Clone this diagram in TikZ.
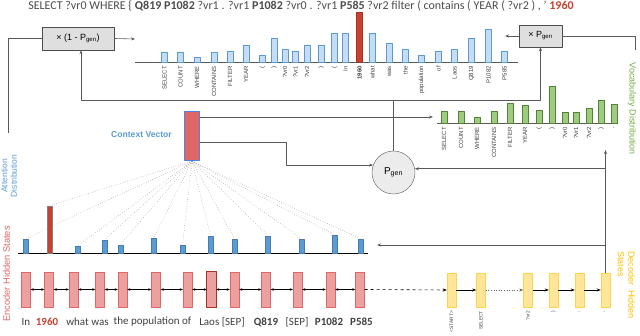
\documentclass[tikz,border=0pt]{standalone}
\usepackage{fontspec}
\setmainfont{Carlito}
\newfontfamily\arialf{Liberation Sans}
\usetikzlibrary{arrows.meta}

\definecolor{attblue}{HTML}{5B9BD5}
\definecolor{lightblue}{HTML}{C5DCF2}
\definecolor{vocgreen}{HTML}{70AD47}
\definecolor{lightgreen}{HTML}{9DCB80}
\definecolor{darkgreen}{HTML}{548235}
\definecolor{hotred}{HTML}{C9412E}
\definecolor{encred}{HTML}{E06666}
\definecolor{encfill}{HTML}{EDA0A0}
\definecolor{decfill}{HTML}{FFE699}
\definecolor{decdraw}{HTML}{FFD24D}
\definecolor{decyellow}{HTML}{FFC000}
\definecolor{ctxred}{HTML}{E06666}
\definecolor{ctxblue}{HTML}{4A86E8}
\definecolor{txtgray}{HTML}{404040}

\tikzset{
  wire/.style={draw=gray!70!black, line width=0.6pt},
  gatebox/.style={draw=gray!60!black, fill=gray!25, inner sep=0pt, font=\arialf\fontsize{9}{10}\selectfont},
  encstate/.style={draw=encred, fill=encfill, minimum width=9pt, minimum height=35pt, inner sep=0pt},
  decstate/.style={draw=decdraw, fill=decfill, minimum width=9pt, minimum height=34pt, inner sep=0pt},
  attbar/.style={draw=attblue!80!black, fill=attblue, minimum width=5pt, inner sep=0pt, anchor=south},
  tbar/.style={draw=attblue, fill=lightblue, line width=0.5pt},
  rbar/.style={draw=hotred!80!black, fill=hotred, line width=0.5pt},
  gbar/.style={draw=darkgreen, fill=lightgreen, line width=0.5pt},
  ticklab/.style={rotate=90, anchor=east, inner sep=0pt, text=txtgray, font=\arialf\fontsize{6}{6}\selectfont},
  toklab/.style={text=txtgray, font=\fontsize{11}{13}\selectfont, inner sep=0pt},
}

\begin{document}
\begin{tikzpicture}[x=1pt, y=-1pt, >={Stealth[length=4pt,width=3pt]}, line join=round]
	\useasboundingbox (0,0) rectangle (640,336);

	% query on top
	\node[text=gray!60!black, font=\fontsize{12}{14}\selectfont, inner sep=0pt] (query) at (301,5.5)
		{SELECT ?vr0 WHERE \{ \textbf{Q819 P1082} ?vr1 . ?vr1 \textbf{P1082} ?vr0 . ?vr1 \textbf{P585} ?vr2 filter ( contains ( YEAR ( ?vr2 ) , ' \textcolor{hotred}{\textbf{1960}}};

	% gates
	\node[gatebox, minimum width=72pt, minimum height=23pt] (copygate) at (78,38.5) {× (1 - P\textsubscript{gen})};
	\node[gatebox, minimum width=43pt, minimum height=22pt] (gengate) at (540.5,36) {× P\textsubscript{gen}};
	\node[circle, draw=gray!70!black, fill=gray!15, minimum size=43pt, inner sep=0pt,
		font=\arialf\fontsize{10}{11}\selectfont] (pgen) at (393.5,172.5) {P\textsubscript{gen}};

	% final distribution (copy + vocabulary)
	\draw[gray!70!black, line width=0.9pt] (135,62) -- (518,62);
	\foreach \x/\t/\l/\s [count=\i] in {164.5/52/SELECT/tbar, 180.5/52/COUNT/tbar, 197/57/WHERE/tbar,
		214/52/CONTAINS/tbar, 230/51/FILTER/tbar, 246/45/YEAR/tbar, 262.5/55/{(}/tbar, 274/38/{)}/tbar,
		285/49/?vr0/tbar, 295.5/51/?vr1/tbar, 307/45/?vr2/tbar, 321/45/{)}/tbar, 334.5/33/{(}/tbar,
		345.5/33/In/tbar, 359.5/12/\textbf{1960}/rbar, 372.5/33/what/tbar, 389.5/43/was/tbar,
		405.5/49/the/tbar, 421.5/55/population/tbar, 438.5/51/of/tbar, 454.5/49/Laos/tbar,
		471.5/38/Q819/tbar, 488.5/29/P1082/tbar, 504.5/51/P585/tbar}
	{
		\draw[\s] (\x-2.8,62) rectangle (\x+2.8,\t);
		\node[ticklab] (top\i) at (\x,66) {\l};
	}

	% vocabulary distribution
	\draw[gray!70!black, line width=0.9pt] (437,123) -- (618,123);
	\foreach \x/\t/\l [count=\i] in {444/111/SELECT, 461/111/COUNT, 477/117/WHERE, 494/111/CONTAINS,
		510/103/FILTER, 525/105/YEAR, 539/110/{(}, 552/86/{)}, 565/112/?vr0, 576/112/?vr1,
		589/108/?vr2, 601/100/{)}, 614/104/{,}}
	{
		\draw[gbar] (\x-3,123) rectangle (\x+3,\t);
		\node[ticklab] (voc\i) at (\x,127) {\l};
	}
	\node[rotate=-90, text=vocgreen, font=\arialf\fontsize{9}{11}\selectfont, inner sep=0pt] (voclab) at (632,109) {Vocabulary Distribution};

	% context vector
	\node[draw=ctxblue, line width=1.1pt, fill=ctxred, minimum width=15pt, minimum height=49pt, inner sep=0pt] (ctx) at (192,136) {};
	\node[text=attblue, font=\arialf\bfseries\fontsize{8.6}{10}\selectfont, inner sep=0pt] (ctxlab) at (141.5,135) {Context Vector};

	% attention distribution
	\draw[line width=0.9pt] (18,253) -- (368,253);
	\foreach \x/\h [count=\i] in {25.5/14, 49.5/47, 78/7, 104.5/13, 120.5/8, 154/15, 182.5/8,
		210.5/17, 234.5/14, 268/17, 301.5/14, 334.5/18, 360.5/14}
		\node[attbar, minimum height=\h pt] (a\i) at (\x,253) {};
	\node[attbar, draw=gray, fill=hotred, minimum height=47pt] at (a2.south) {};
	\foreach \i in {1,...,13}
		\draw[dotted, gray!80!black] (ctx.south) -- (a\i.north);
	\node[rotate=90, text=attblue, align=center, font=\arialf\fontsize{8.5}{9.5}\selectfont, inner sep=0pt] (attlab) at (9,176) {Attention\\Distribution};

	% encoder hidden states
	\foreach \x [count=\i] in {26, 49, 73.5, 100, 122.5, 156, 187.5, 211.5, 234.5, 266, 297.5, 330.5, 360}
		\node[encstate] (e\i) at (\x,289.5) {};
	\draw[draw=hotred!80!black, fill=encfill, line width=0.8pt] (e8.south west) rectangle (e8.north east);
	\foreach \i [evaluate=\i as \j using int(\i+1)] in {1,...,12}
		\draw[<->, >={Stealth[length=3pt,width=2.5pt]}, line width=0.6pt] (e\i.east) -- (e\j.west);
	\node[rotate=90, text=encred, font=\arialf\fontsize{9.3}{11}\selectfont, inner sep=0pt] (enclab) at (6.5,274) {Encoder Hidden States};

	% input tokens
	\node[toklab] (w1) at (26,322) {In};
	\node[toklab, text=hotred, font=\bfseries\fontsize{11}{13}\selectfont] (w2) at (47,322) {1960};
	\node[toklab] (w3) at (87.5,322) {what was};
	\node[toklab] (w4) at (152.5,322) {the population of};
	\node[toklab] (w5) at (222,322) {Laos [SEP]};
	\node[toklab, font=\bfseries\fontsize{11}{13}\selectfont] (w6) at (266,322) {Q819};
	\node[toklab] (w7) at (297,322) {[SEP]};
	\node[toklab, font=\bfseries\fontsize{11}{13}\selectfont] (w8) at (329,322) {P1082};
	\node[toklab, font=\bfseries\fontsize{11}{13}\selectfont] (w9) at (361.5,322) {P585};

	% decoder hidden states
	\foreach \x/\l [count=\i] in {451.5/<START>, 481/SELECT, 528/?vr2, 553.5/{)}, 579.5/{,}, 605.5/{'}}
	{
		\node[decstate] (d\i) at (\x,290) {};
		\node[ticklab, font=\arialf\fontsize{4.8}{5}\selectfont] (dl\i) at (\x,311) {\l};
	}
	\draw[->, dashed, line width=0.6pt] (e13.east) -- (d1.west);
	\draw[->, line width=0.6pt] (d1.east) -- (d2.west);
	\draw[->, dotted, gray!80!black, line width=0.6pt] (d2.east) -- (d3.west);
	\draw[->, line width=0.6pt] (d3.east) -- (d4.west);
	\draw[->, line width=0.6pt] (d4.east) -- (d5.west);
	\draw[->, line width=0.8pt] (d5.east) -- (d6.west);
	\node[rotate=-90, anchor=north west, align=left, text=decyellow, font=\arialf\fontsize{9}{10.5}\selectfont, inner sep=0pt] (declab) at (635,251) {Decoder\ \ Hidden\\States};

	% wires
	\coordinate (attop) at (8,133);
	\coordinate (copyin) at (135,39);
	\coordinate (genin) at (505,36);
	\coordinate (vocend) at (635,50);
	\coordinate (split) at (393.5,100);
	\coordinate (vocin) at (433,117);
	\coordinate (vocout) at (605.5,150);
	\coordinate (attin) at (377,245);
	\draw[wire] (attop) |- (copygate.west);
	\draw[wire, ->] (copygate.east) -- (copyin);
	\draw[wire, ->] (gengate.west) -- (genin);
	\draw[wire] (gengate.east) -| (vocend);
	\draw[wire, ->] (pgen.north) -- (split) -| ([xshift=3pt]copygate.south);
	\draw[wire, ->] (split) -| (gengate.south);
	\draw[wire, ->] ([yshift=19pt]ctx.east) -- (vocin);
	\draw[wire, ->] ([yshift=-6pt]ctx.east) -- ++(86,0) |- (pgen.160);
	\draw[wire, ->] (d6.north) -- (vocout);
	\draw[wire, ->] (d6.north |- pgen.10) -- (pgen.10);
	\draw[wire, ->] (d6.north |- attin) -- (attin);
\end{tikzpicture}
\end{document}
